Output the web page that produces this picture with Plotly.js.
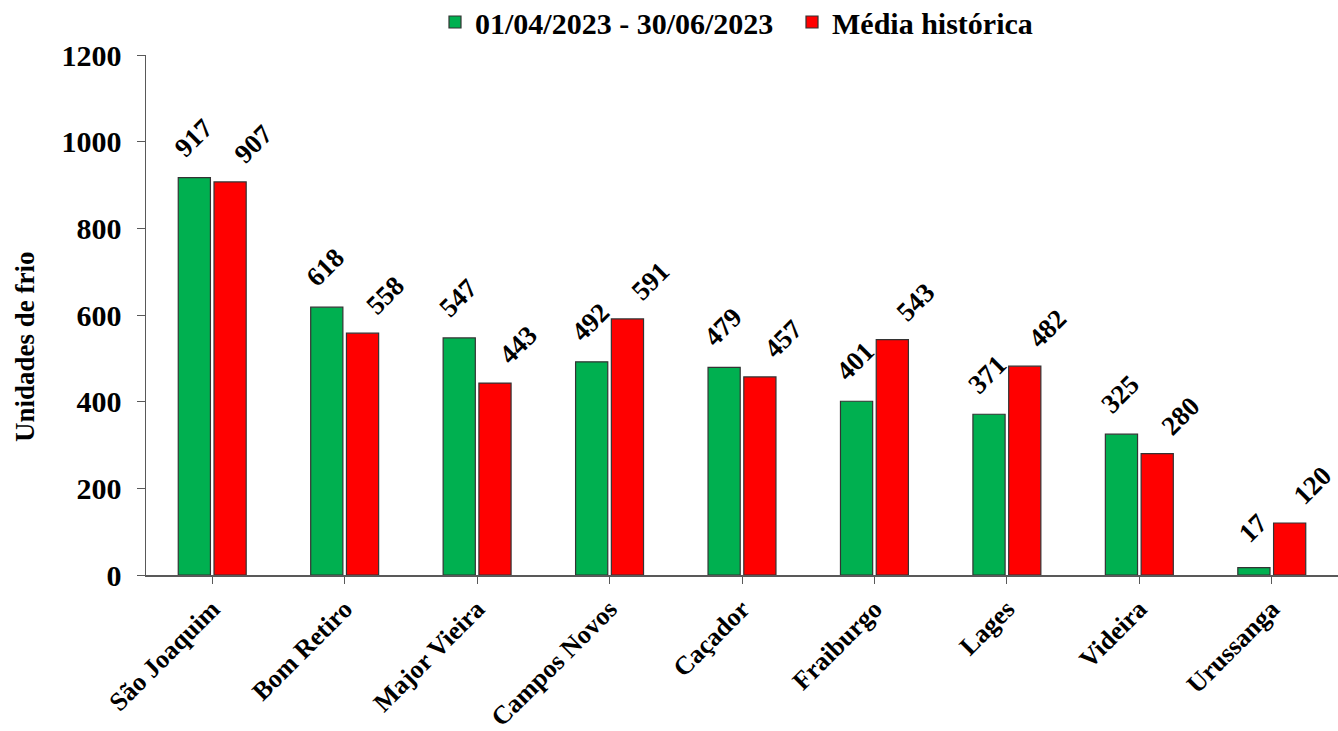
<!DOCTYPE html>
<html>
<head>
<meta charset="utf-8">
<script src="https://cdn.plot.ly/plotly-3.0.1.min.js"></script>
<style>html,body{margin:0;padding:0;background:#fff;}#chart{width:1338px;height:731px;}</style>
</head>
<body>
<div id="chart"></div>
<script>
const categories = ["São Joaquim","Bom Retiro","Major Vieira","Campos Novos","Caçador","Fraiburgo","Lages","Videira","Urussanga"];
const periodValues = [917,618,547,492,479,401,371,325,17];
const historicValues = [907,558,443,591,457,543,482,280,120];
const seriesNames = ["01/04/2023 - 30/06/2023","Média histórica"];
const yTicks = [0,200,400,600,800,1000,1200];
const yTitle = "Unidades de frio";

const font = {family:"Liberation Serif, Times New Roman, serif", color:"#000"};
const bold = (s) => Object.assign({}, font, {size:s, weight:"bold"});
function mk(vals, name, color){
  return {
    type:"bar", x:categories, y:vals, name:name,
    marker:{color:color, line:{color:"#333", width:1.2}},
    hoverinfo:"skip"
  };
}
const data = [mk(periodValues, seriesNames[0], "#00B050"), mk(historicValues, seriesNames[1], "#FF0000")];

const annotations = [];
categories.forEach((c, i) => {
  annotations.push({x:c, y:periodValues[i], xref:"x", yref:"y", text:String(periodValues[i]),
    showarrow:false, textangle:-45, xanchor:"center", yanchor:"middle", xshift:-19, yshift:40, font:bold(27)});
  annotations.push({x:c, y:historicValues[i], xref:"x", yref:"y", text:String(historicValues[i]),
    showarrow:false, textangle:-45, xanchor:"center", yanchor:"middle", xshift:41, yshift:38, font:bold(27)});
});
annotations.push({xref:"paper", yref:"paper", x:0, y:(575-347)/520, xshift:-121, text:yTitle, textangle:-90,
  showarrow:false, xanchor:"center", yanchor:"middle", font:bold(27)});

const layout = {
  width:1338, height:731,
  margin:{l:146, r:0, t:55, b:156},
  paper_bgcolor:"#fff", plot_bgcolor:"#fff",
  barmode:"group", bargap:0.46, bargroupgap:0.1,
  font:font,
  showlegend:true,
  legend:{orientation:"h", x:435/1338, xanchor:"left", xref:"container", y:1-22/731, yanchor:"middle", yref:"container",
    font:bold(30), traceorder:"normal", entrywidth:312, entrywidthmode:"pixels"},
  annotations:annotations,
  xaxis:{type:"category", range:[-0.5,8.5], showline:true, linecolor:"#595959", linewidth:1.5,
    ticks:"outside", ticklen:7, tickcolor:"#595959", tickangle:-45,
    tickfont:bold(26), showgrid:false, zeroline:false},
  yaxis:{range:[0,1200], tickvals:yTicks, ticktext:yTicks.map(String), showline:true, linecolor:"#595959", linewidth:1.5,
    ticks:"outside", ticklen:8, tickcolor:"#595959", ticklabelstandoff:9,
    tickfont:bold(30), showgrid:false, zeroline:false}
};
Plotly.newPlot("chart", data, layout, {displayModeBar:false, staticPlot:true});
</script>
</body>
</html>
